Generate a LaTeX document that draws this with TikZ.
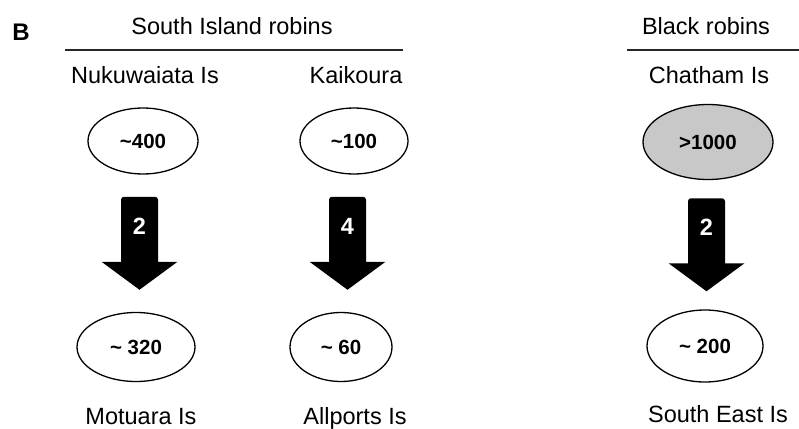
\documentclass[tikz,border=0pt]{standalone}
\usepackage{fontspec}
\setmainfont{Liberation Sans}
\usepackage{tikz}
\usepackage{xcolor}
\usetikzlibrary{calc,positioning,shapes.geometric}
\definecolor{popgrey}{RGB}{200,200,200}
\tikzset{%
	label/.style    = {inner sep=0pt, text height=16.8pt, text depth=0pt, font=\fontsize{23.5}{28}\selectfont},
	pop/.style      = {draw, ellipse, line width=1.3pt, inner sep=0pt, font=\fontsize{20.5}{24}\selectfont\bfseries},
	rule/.style     = {line width=1.5pt, draw=black!85},
	blockarrow/.style = {fill=black},
	count/.style    = {text=white, inner sep=0pt, font=\fontsize{23.5}{26}\selectfont\bfseries},
}
\begin{document}
\begin{tikzpicture}[x=1pt,y=-1pt]
	\useasboundingbox (0,0) rectangle (799,428);
	\node[inner sep=0pt,font=\fontsize{24}{28}\selectfont\bfseries] (B) at (21,32) {B};
	% headings
	\node[label] (south) at (232,26) {South Island robins};
	\node[label] (black) at (706,26) {Black robins};
	\draw[rule] (65,50) -- (403,50);
	\draw[rule] (627,50) -- (799,50);
	% source populations
	\node[label] (nukuname) at (145,75) {Nukuwaiata Is};
	\node[label] (kaikname) at (356,75) {Kaikoura};
	\node[label] (chatname) at (709,75) {Chatham Is};
	\node[pop, minimum width=110pt, minimum height=66pt] (nuku) at (143,141) {\textasciitilde400};
	\node[pop, minimum width=108pt, minimum height=66pt] (kaik) at (354,141) {\textasciitilde100};
	\node[pop, fill=popgrey, minimum width=130pt, minimum height=75pt] (chat) at (708,142) {>1000};
	% founded populations
	\node[pop, minimum width=118pt, minimum height=69pt] (motu) at (136,347) {\textasciitilde{} 320};
	\node[pop, minimum width=102pt, minimum height=69pt] (allp) at (341,347) {\textasciitilde{} 60};
	\node[pop, minimum width=116pt, minimum height=72pt] (seis) at (705,346) {\textasciitilde{} 200};
	\node[label] (motuname) at (141,416) {Motuara Is};
	\node[label] (allpname) at (355,416) {Allports Is};
	\node[label] (seisname) at (718,414) {South East Is};
	% translocation arrows
	\foreach \from/\to/\n in {nuku/motu/2, kaik/allp/4, chat/seis/2} {
		\coordinate (\from-mid) at ($(\from.south)!0.5!(\to.north)$);
		\fill[blockarrow] ($(\from-mid)+(0,-46.5)$) [rounded corners=3pt] -- ++(18.5,0) [sharp corners] -- ++(0,65)
			-- ++(19.5,0) -- ($(\from-mid)+(0,46.5)$) -- ++(-38,-28) -- ++(19.5,0) [rounded corners=3pt] -- ++(0,-65) -- cycle;
		\node[count] (\from-n) at ($(\from-mid)+(0,-17)$) {\n};
	}
\end{tikzpicture}
\end{document}
